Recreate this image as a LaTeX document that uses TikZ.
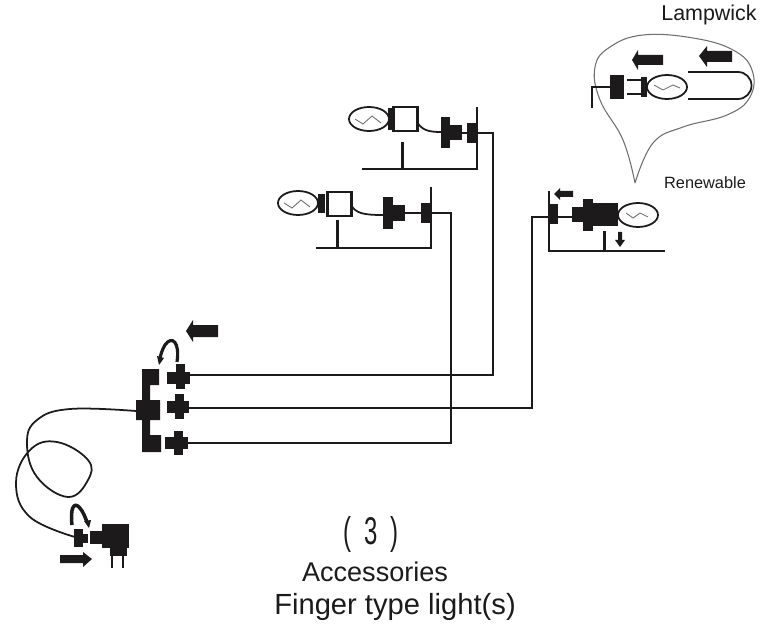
\documentclass[tikz,border=0pt]{standalone}
\usepackage{fontspec}
\setmainfont{Liberation Sans}
\usepackage{tikz}
\definecolor{ink}{HTML}{1C1A1A}
\definecolor{pale}{HTML}{6E6E6E}
\tikzset{
  wire/.style={draw=ink,line width=1.6pt},
  thinwire/.style={draw=ink,line width=1pt},
  post/.style={draw=ink,line width=1.7pt},
  solidpart/.style={fill=ink},
  bulb/.style={draw=ink,line width=1pt,fill=white},
  squiggle/.style={draw=pale,line width=0.5pt},
  caption/.style={text=ink,inner sep=0pt}
}
\begin{document}
\begin{tikzpicture}[x=0.02cm,y=-0.02cm]
\useasboundingbox (0,0) rectangle (766,631);

% wire corners
\coordinate (SockA) at (477,133);
\coordinate (SockB) at (431,213);
\coordinate (SockC) at (549,217);
\coordinate (HubA) at (190,375);
\coordinate (HubB) at (189,408);
\coordinate (HubC) at (188,443);
\coordinate (CordHub) at (136,411);
\coordinate (CordJack) at (75,537);

% long wires
\draw[wire] (HubA) -- (493,375) |- (SockA) ;
\draw[wire] (HubB) -- (532,408) |- (SockC) ;
\draw[wire] (HubC) -- (451,443) |- (SockB) ;
\draw[thinwire] plot[smooth,tension=0.7] coordinates {(CordHub) (70,409) (37,420) (27,443) (37,477) (68,497) (88,480) (88,460) (57,442) (30,450) (16,483) (30,517) (CordJack)} ;

% upper fixture
\draw[bulb] (369,119) ellipse (20 and 12) ;
\draw[squiggle] (355,119) -- (363,124) -- (372,116) -- (381,123) ;
\fill[solidpart] (388,108) rectangle (394,130) ;
\draw[post,fill=white] (393,107) rectangle (417,131) ;
\draw[thinwire] (417,122) .. controls (422,130) and (428,132) .. (441,132) ;
\fill[solidpart] (441,117) rectangle (450,148) ;
\fill[solidpart] (450,125) rectangle (462,140) ;
\draw[thinwire] (462,133) -- (467,133) ;
\fill[solidpart] (467,123) rectangle (477,143) ;
\draw[thinwire] (477,107) -- (477,169) -- (362,169) ;
\draw[post] (402,142) -- (402,169) ;

% lower fixture
\draw[bulb] (298,203) ellipse (20 and 12) ;
\draw[squiggle] (284,203) -- (292,208) -- (301,200) -- (310,207) ;
\fill[solidpart] (318,194) rectangle (325,213) ;
\draw[post,fill=white] (327,192) rectangle (351,216) ;
\draw[thinwire] (351,205) .. controls (356,213) and (362,215) .. (383,215) ;
\fill[solidpart] (383,197) rectangle (393,229) ;
\fill[solidpart] (393,205) rectangle (405,221) ;
\draw[thinwire] (405,213) -- (421,213) ;
\fill[solidpart] (421,203) rectangle (431,223) ;
\draw[thinwire] (431,187) -- (431,248) -- (316,248) ;
\draw[post] (337,220) -- (337,248) ;

% right fixture
\draw[thinwire] (549,191) -- (549,251) -- (665,251) ;
\draw[post] (604,231) -- (604,251) ;
\fill[solidpart] (549,204) rectangle (558,224) ;
\draw[thinwire] (558,217) -- (572,217) ;
\draw[bulb] (638,215) ellipse (20 and 12) ;
\draw[squiggle] (626,213) -- (633,218) -- (640,213) -- (648,217) ;
\fill[solidpart] (572,207) rectangle (583,222) ;
\fill[solidpart] (583,199) rectangle (593,231) ;
\fill[solidpart] (593,203) rectangle (618,226) ;
\fill[solidpart] (554,194) -- (560,188) -- (560,191) -- (573,191) -- (573,197) -- (560,197) -- (560,200) -- cycle ;
\fill[solidpart] (620,247) -- (615,240) -- (618,240) -- (618,232) -- (622,232) -- (622,240) -- (625,240) -- cycle ;

% lampwick balloon
\draw[squiggle,line width=0.6pt] plot[smooth,tension=0.7] coordinates {(635,183) (623,140) (600,100) (595,67) (610,47) (643,35) (693,38) (733,50) (752,70) (750,97) (727,115) (683,127) (653,143) (635,183)} ;
\fill[solidpart] (632,60) -- (638,50) -- (638,55) -- (663,55) -- (663,65) -- (638,65) -- (638,70) -- cycle ;
\fill[solidpart] (699,56) -- (707,46) -- (707,51) -- (732,51) -- (732,62) -- (707,62) -- (707,67) -- cycle ;
\fill[solidpart] (610,75) rectangle (624,99) ;
\draw[thinwire] (610,87) -- (592,87) -- (592,108) ;
\draw[thinwire] (627,80) -- (641,80) ;
\draw[thinwire] (627,94) -- (641,94) ;
\draw[bulb] (667,87) ellipse (20 and 12) ;
\fill[solidpart] (641,77) rectangle (647,97) ;
\draw[squiggle] (654,85) -- (663,90) -- (673,85) -- (680,88) ;
\draw[thinwire] (688,72) -- (738,72) arc(-90:90:13.5) -- (688,99) ;

% hub with three plugs
\fill[solidpart] (142,369) -- (159,369) -- (159,385) -- (150,385) -- (150,400) -- (160,400) -- (160,420) -- (150,420) -- (150,435) -- (161,435) -- (161,452) -- (142,452) -- (142,420) -- (136,420) -- (136,400) -- (142,400) -- cycle ;
\fill[solidpart] (167,372) rectangle (190,384) ;
\fill[solidpart] (176,364) rectangle (185,389) ;
\fill[solidpart] (167,401) rectangle (189,413) ;
\fill[solidpart] (175,394) rectangle (184,419) ;
\fill[solidpart] (165,437) rectangle (188,449) ;
\fill[solidpart] (174,431) rectangle (183,455) ;
\draw[post,line width=1.8pt] (177,362) .. controls (180,342) and (172,335) .. (165,345) .. controls (162,350) and (161,354) .. (160,358) ;
\fill[solidpart] (159,365) -- (157,356) -- (164,358) -- cycle ;
\fill[solidpart] (186,331) -- (193,320) -- (193,325) -- (218,325) -- (218,337) -- (193,337) -- (193,342) -- cycle ;

% jack and adapter
\fill[solidpart] (74,529) rectangle (83,547) ;
\fill[solidpart] (83,534) rectangle (88,543) ;
\fill[solidpart] (90,531) rectangle (102,544) ;
\fill[solidpart] (102,524) rectangle (129,548) ;
\fill[solidpart] (110,548) rectangle (127,556) ;
\draw[post] (112,556) -- (112,568) ;
\draw[post] (123,556) -- (123,568) ;
\draw[post,line width=2pt] (72,525) .. controls (70,508) and (74,502) .. (79,507) .. controls (83,511) and (85,517) .. (87,522) ;
\fill[solidpart] (89,528) -- (84,521) -- (91,520) -- cycle ;
\fill[solidpart] (92,559) -- (83,552) -- (83,555) -- (60,555) -- (60,563) -- (83,563) -- (83,567) -- cycle ;

% labels
\node[caption,font=\fontsize{12.2}{14}\selectfont] (Lampwick) at (709,15) {Lampwick};
\node[caption,font=\fontsize{9.3}{11}\selectfont] (Renewable) at (705,183) {Renewable};
\node[caption,font=\fontsize{22}{26}\selectfont,xscale=0.62] (Number) at (371,534) {(\ \ 3\ \ )};
\node[caption,font=\fontsize{15.4}{18}\selectfont] (Accessories) at (375,572) {Accessories};
\node[caption,font=\fontsize{16.6}{19}\selectfont] (Finger) at (395,607) {Finger type light(s)};
\end{tikzpicture}
\end{document}
